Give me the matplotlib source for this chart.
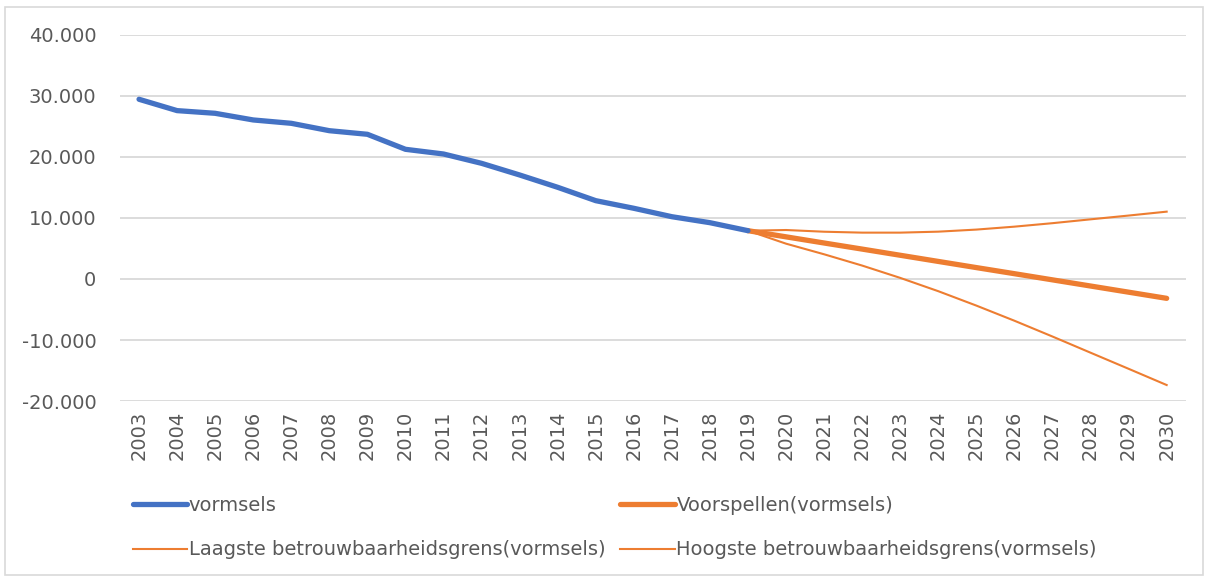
import matplotlib
matplotlib.use("Agg")
import matplotlib.pyplot as plt
from matplotlib.ticker import FuncFormatter, FixedLocator
from matplotlib.patches import Rectangle

# data
years = list(range(2003, 2031))
vormsels = [29460, 27600, 27160, 26070, 25520, 24310, 23720, 21260, 20490,
            18960, 17050, 15030, 12840, 11590, 10210, 9230, 7920]
fc_years = list(range(2019, 2031))
voorspellen = [7920, 6910, 5900, 4900, 3890, 2880, 1870, 870, -140, -1150, -2160, -3170]
hoogste = [7920, 8030, 7750, 7600, 7600, 7760, 8100, 8580, 9150, 9780, 10400, 11040]
laagste = [7920, 5790, 4050, 2200, 180, -2000, -4360, -6840, -9430, -12080, -14720, -17380]

blue = "#4472C4"
orange = "#ED7D31"
grey_txt = "#595959"
grid_c = "#D9D9D9"

plt.rcParams['font.family'] = ['DejaVu Sans']

fig = plt.figure(figsize=(12.11, 5.8), dpi=100)
ax = fig.add_axes([0.0991, 0.3086, 0.8800, 0.6311])

l1, = ax.plot(years[:len(vormsels)], vormsels, color=blue, lw=3.8,
              solid_capstyle='round', label='vormsels', zorder=4)
l2, = ax.plot(fc_years, voorspellen, color=orange, lw=3.8,
              solid_capstyle='round', label='Voorspellen(vormsels)', zorder=3)
l3, = ax.plot(fc_years, laagste, color=orange, lw=1.5,
              label='Laagste betrouwbaarheidsgrens(vormsels)', zorder=3)
l4, = ax.plot(fc_years, hoogste, color=orange, lw=1.5,
              label='Hoogste betrouwbaarheidsgrens(vormsels)', zorder=3)

ax.set_xlim(2002.5, 2030.5)
ax.set_ylim(-20000, 40000)
ax.set_yticks(range(-20000, 40001, 10000))
ax.yaxis.set_major_formatter(FuncFormatter(lambda v, p: f"{int(v):,}".replace(",", ".")))
ax.xaxis.set_major_locator(FixedLocator(years))
ax.set_xticklabels([str(y) for y in years], rotation=90)

ax.grid(axis='y', color=grid_c, lw=1.3)
ax.set_axisbelow(True)
for s in ax.spines.values():
    s.set_visible(False)
ax.tick_params(axis='both', length=0, colors=grey_txt, labelsize=14)
ax.tick_params(axis='y', pad=17)
ax.tick_params(axis='x', pad=7)

# column-major fill, so order gives rows: (vormsels, Voorspellen), (Laagste, Hoogste)
fig.legend(handles=[l1, l3, l2, l4], loc='upper left', bbox_to_anchor=(0.103, 0.158),
           ncol=2, frameon=False, fontsize=14, handlelength=2.8, handletextpad=0.1,
           columnspacing=0.75, labelspacing=1.3, borderaxespad=0, labelcolor=grey_txt)

# light chart-area border
fig.patches.append(Rectangle((5 / 1211, 5 / 580), 1198 / 1211, 568 / 580,
                             transform=fig.transFigure, fill=False,
                             edgecolor=grid_c, lw=1.2))

fig.savefig("out.png", dpi=100, facecolor='white')
